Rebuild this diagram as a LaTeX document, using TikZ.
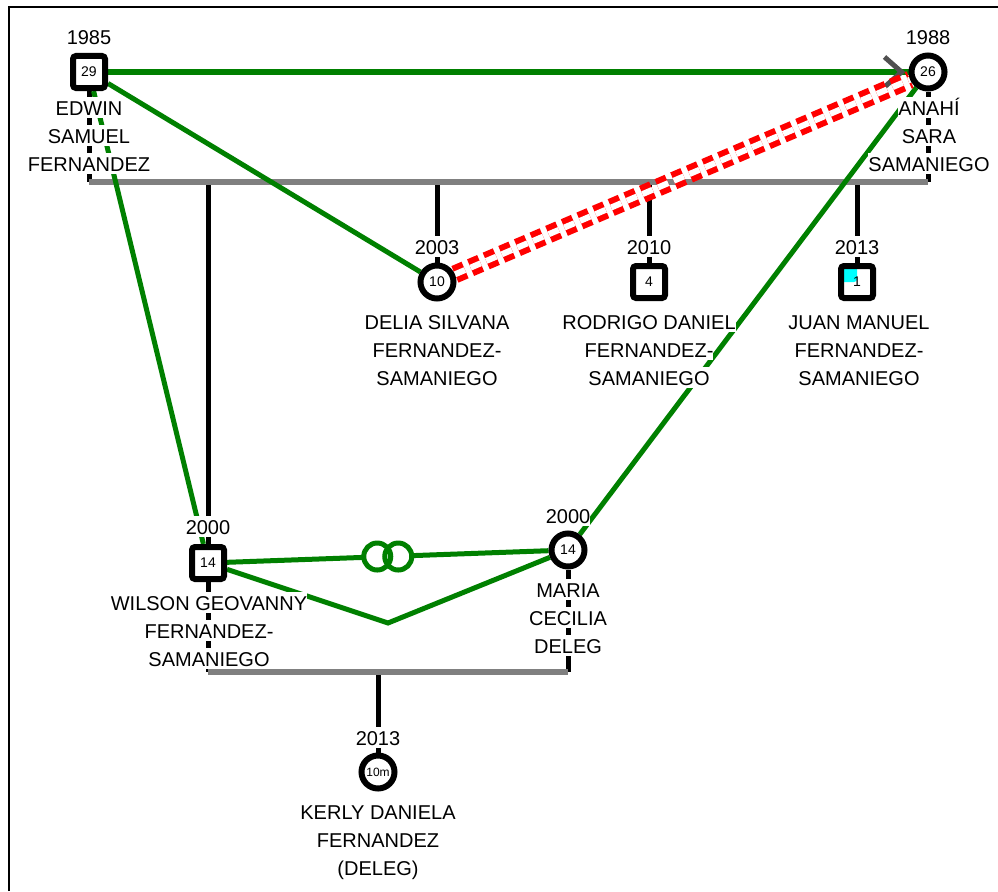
\documentclass[tikz,border=0pt]{standalone}
\usepackage{fontspec}
\setmainfont{Liberation Sans}
\usetikzlibrary{backgrounds}

\definecolor{bondgreen}{RGB}{0,128,0}
\definecolor{kingray}{RGB}{128,128,128}
\definecolor{tipgray}{RGB}{80,80,80}
\definecolor{newborn}{RGB}{0,255,255}
\setlength{\fboxsep}{0pt}
% white strip behind one line of text
\newcommand{\wb}[1]{\colorbox{white}{\rule[-3pt]{0pt}{21pt}#1}}

\tikzset{
  mnode/.style={draw, line width=6pt, rounded corners=3pt, fill=white, minimum size=32pt, inner sep=0pt, font=\fontsize{14}{14}\selectfont},
  fnode/.style={circle, draw, line width=6pt, fill=white, minimum size=33pt, inner sep=0pt, font=\fontsize{14}{14}\selectfont},
  yr/.style={anchor=base, inner sep=0pt, font=\fontsize{20}{24}\selectfont},
  nm/.style={anchor=north, inner sep=0pt, align=center, font=\fontsize{20}{28}\selectfont},
  kin/.style={draw=kingray, line width=6pt},
  stem/.style={draw=black, line width=5pt},
  bond/.style={draw=bondgreen, line width=5pt},
  hostile/.style={draw=red, line width=6pt, double=white, double distance=6pt, dash pattern=on 11pt off 6pt},
}

\begin{document}
\begin{tikzpicture}[x=1pt, y=-1pt]
    \useasboundingbox (0,0) rectangle (998,891);

    % people
    \node[mnode] (edwin) at (89,72) {29};
    \node[fnode] (anahi) at (928,72) {26};
    \node[fnode] (delia) at (437,282) {10};
    \node[mnode] (rodrigo) at (649,282) {4};
    \node[mnode, path picture={\fill[newborn] (path picture bounding box.north west) rectangle (path picture bounding box.center);}] (juan) at (857,282) {1};
    \node[mnode] (wilson) at (208,563) {14};
    \node[fnode] (maria) at (568,550) {14};
    \node[fnode, font=\fontsize{12}{12}\selectfont] (kerly) at (378,772) {10m};

    % years
    \node[yr] (edwin-yr) at (89,45) {\wb{1985}};
    \node[yr] (anahi-yr) at (928,45) {\wb{1988}};
    \node[yr] (delia-yr) at (437,254) {\wb{2003}};
    \node[yr] (rodrigo-yr) at (649,254) {\wb{2010}};
    \node[yr] (juan-yr) at (857,254) {\wb{2013}};
    \node[yr] (wilson-yr) at (208,534) {\wb{2000}};
    \node[yr] (maria-yr) at (568,523) {\wb{2000}};
    \node[yr] (kerly-yr) at (378,745) {\wb{2013}};

    % names
    \node[nm] (edwin-nm) at (89,97) {\wb{EDWIN}\\\wb{SAMUEL}\\\wb{FERNANDEZ}};
    \node[nm] (anahi-nm) at (929,97) {\wb{ANAHÍ}\\\wb{SARA}\\\wb{SAMANIEGO}};
    \node[nm] (delia-nm) at (437,311) {\wb{DELIA SILVANA}\\\wb{FERNANDEZ-}\\\wb{SAMANIEGO}};
    \node[nm] (rodrigo-nm) at (649,311) {\wb{RODRIGO DANIEL}\\\wb{FERNANDEZ-}\\\wb{SAMANIEGO}};
    \node[nm] (juan-nm) at (859,311) {\wb{JUAN MANUEL}\\\wb{FERNANDEZ-}\\\wb{SAMANIEGO}};
    \node[nm] (wilson-nm) at (209,592) {\wb{WILSON GEOVANNY}\\\wb{FERNANDEZ-}\\\wb{SAMANIEGO}};
    \node[nm] (maria-nm) at (568,579) {\wb{MARIA}\\\wb{CECILIA}\\\wb{DELEG}};
    \node[nm] (kerly-nm) at (378,801) {\wb{KERLY DANIELA}\\\wb{FERNANDEZ}\\\wb{(DELEG)}};

    \coordinate (top-l) at (89,182);
    \coordinate (top-r) at (928,182);
    \coordinate (bot-l) at (208,672);
    \coordinate (bot-r) at (568,672);
    \coordinate (dip) at (388,623);

    \begin{pgfonlayer}{background}
        \draw[line width=2pt] (9,891) -- (9,7) -- (998,7);

        % parents and children
        \draw[stem] (edwin) -- (top-l);
        \draw[stem] (anahi) -- (top-r);
        \draw[stem] (delia) -- (delia |- top-l);
        \draw[stem] (rodrigo) -- (rodrigo |- top-l);
        \draw[stem] (juan) -- (juan |- top-l);
        \draw[stem] (wilson) -- (wilson |- top-l);
        \draw[stem] (wilson) -- (bot-l);
        \draw[stem] (maria) -- (bot-r);
        \draw[stem] (kerly) -- (kerly |- bot-l);
        \draw[kin] (top-l) -- (top-r);
        \draw[kin] (bot-l) -- (bot-r);

        % relations
        \draw[bond] (edwin) -- (anahi);
        \draw[bond] (edwin) -- (delia);
        \draw[bond] (edwin) -- (wilson);
        \draw[bond] (anahi) -- (maria);
        \draw[bond] (wilson) -- (maria) coordinate[midway] (rings);
        \draw[bond, fill=white] ([xshift=-10.5pt]rings) circle[radius=13.5pt] ([xshift=10.5pt]rings) circle[radius=13.5pt];
        \draw[bond] (wilson) -- (dip) -- (maria);
        \draw[draw=tipgray, line width=5pt] ([xshift=-24pt,yshift=15pt]anahi.west) -- ([xshift=-7pt]anahi.west) -- ([xshift=-24pt,yshift=-15pt]anahi.west);
        \draw[hostile] (delia) -- (anahi);
    \end{pgfonlayer}
\end{tikzpicture}
\end{document}
